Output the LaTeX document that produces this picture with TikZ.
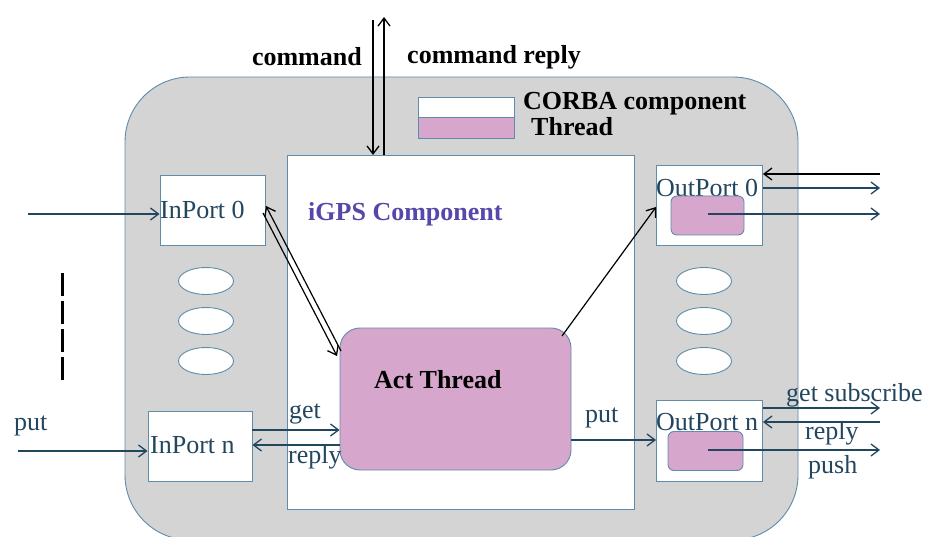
\documentclass[tikz,border=0pt]{standalone}
\usepackage{fontspec}
\setmainfont{Liberation Serif}
\usetikzlibrary{arrows.meta,shapes.geometric}
\definecolor{bgray}{RGB}{212,212,212}
\definecolor{edge}{RGB}{95,140,170}
\definecolor{pinkf}{RGB}{214,166,204}
\definecolor{labc}{RGB}{35,70,95}
\definecolor{igpsc}{RGB}{85,72,170}
\tikzset{
  box/.style={draw=edge, line width=0.9pt, rectangle, inner sep=0pt},
  whitebox/.style={box, fill=white},
  pinkbox/.style={box, fill=pinkf, rounded corners=6pt},
  oval/.style={draw=edge, line width=0.9pt, fill=white, ellipse, minimum width=55pt, minimum height=27pt, inner sep=0pt},
  lab/.style={inner sep=0pt, text=labc, font=\fontsize{26}{28}\selectfont},
  blab/.style={inner sep=0pt, text=black, font=\fontsize{26}{28}\selectfont\bfseries},
  conn/.style={draw=labc, line width=1.2pt, -{Straight Barb[length=8pt,width=12pt,line width=1.3pt]}},
  bconn/.style={draw=black, line width=1.2pt, -{Straight Barb[length=8pt,width=12pt,line width=1.3pt]}},
}
\begin{document}
\begin{tikzpicture}[x=1pt,y=-1pt]
\useasboundingbox (0,0) rectangle (928,537);
\clip (0,0) rectangle (928,537);
\fill[white] (0,0) rectangle (928,537);
% outer CORBA component
\node[box, fill=bgray, rounded corners=65pt, minimum width=673pt, minimum height=463pt] (outer) at (461.5,308.5) {};
% inner iGPS component
\node[whitebox, minimum width=347pt, minimum height=354pt] (igps) at (460.5,332) {};
\node[blab, text=igpsc, anchor=west] (igpslab) at (308,214) {iGPS Component};
% legend
\node[whitebox, minimum width=96pt, minimum height=20pt] (legc) at (466,107) {};
\node[box, fill=pinkf, minimum width=96pt, minimum height=21pt] (legt) at (466,127.5) {};
\node[blab, anchor=west] (legclab) at (523,104) {CORBA component};
\node[blab, anchor=west] (legtlab) at (531,127) {Thread};
% command arrows
\node[blab, anchor=east] (cmdlab) at (362,57) {command};
\node[blab, anchor=west] (cmdrlab) at (407,57) {command reply};
\coordinate (cmdtop) at (373,20);
\coordinate (cmdbot) at (373,155);
\coordinate (reptop) at (384,17);
\coordinate (repbot) at (384,155);
\draw[bconn] (cmdtop) -- (cmdbot);
\draw[bconn] (repbot) -- (reptop);
% in ports
\node[whitebox, minimum width=105pt, minimum height=70pt] (inport0) at (212.5,210) {};
\node[lab, anchor=west] (in0lab) at (160,210) {InPort 0};
\node[whitebox, minimum width=104pt, minimum height=70pt] (inportn) at (200,446) {};
\node[lab, anchor=west] (innlab) at (150,445) {InPort n};
% ovals
\node[oval] (ol1) at (206,281) {};
\node[oval] (ol2) at (206,321) {};
\node[oval] (ol3) at (206,361) {};
\node[oval] (or1) at (704,281) {};
\node[oval] (or2) at (704,321) {};
\node[oval] (or3) at (704,361) {};
% dashed ellipsis line
\coordinate (dtop) at (62,273);
\coordinate (dbot) at (62,383);
\draw[black, line width=3pt, dash pattern=on 23pt off 5pt] (dtop) -- (dbot);
% act thread
\node[box, fill=pinkf, rounded corners=20pt, minimum width=231pt, minimum height=142pt] (act) at (455.5,399) {};
\node[blab, anchor=west] (actlab) at (374,380) {Act Thread};
% out ports
\node[whitebox, minimum width=106pt, minimum height=80pt] (outport0) at (709.5,205) {};
\node[lab, anchor=west] (out0lab) at (656,188) {OutPort 0};
\node[pinkbox, minimum width=73pt, minimum height=39pt] (out0t) at (707.5,215.5) {};
\node[whitebox, minimum width=106pt, minimum height=81pt] (outportn) at (709.5,440.5) {};
\node[lab, anchor=west] (outnlab) at (656,422) {OutPort n};
\node[pinkbox, minimum width=75pt, minimum height=39pt] (outnt) at (705.5,451) {};
% input arrows
\coordinate (in0src) at (28,214);
\draw[conn] (in0src) -- (in0src -| inport0.west);
\node[lab, anchor=west] (putlab) at (14,426) {put};
\coordinate (innsrc) at (18,451);
\draw[conn] (innsrc) -- (innsrc -| inportn.west);
% inport0 <-> act
\coordinate (a1s) at (341,351);
\coordinate (a1e) at (266,206);
\coordinate (a2s) at (263,213);
\coordinate (a2e) at (337,356);
\draw[bconn] (a1s) -- (a1e);
\draw[bconn] (a2s) -- (a2e);
% inportn <-> act
\coordinate (getrow) at (0,430);
\coordinate (reprow) at (0,445);
\draw[conn] (getrow -| inportn.east) -- (getrow -| act.west);
\draw[conn] (reprow -| act.west) -- (reprow -| inportn.east);
\node[lab, anchor=west] (getlab) at (289,414) {get};
\node[lab, anchor=west] (replab) at (288,457) {reply};
% act -> outport0
\coordinate (actne) at (562,336);
\draw[bconn] (actne) -- ([yshift=-2pt]outport0.west);
% act -> outportn
\coordinate (actput) at (571,440);
\draw[conn] (actput) -- (actput -| outportn.west);
\node[lab, anchor=west] (put2lab) at (585,418) {put};
% outport0 right arrows
\coordinate (o0a) at (880,174);
\coordinate (o0b) at (880,188);
\coordinate (o0c) at (880,214);
\draw[bconn] (o0a) -- (o0a -| outport0.east);
\draw[conn] (o0b -| outport0.east) -- (o0b);
\draw[conn] (o0c -| out0t.center) -- (o0c);
% outportn right arrows
\coordinate (ona) at (880,408);
\coordinate (onb) at (880,422);
\coordinate (onc) at (880,450);
\draw[conn] (ona -| outportn.east) -- (ona);
\draw[conn] (onb) -- (onb -| outportn.east);
\draw[conn] ([xshift=2pt]onc -| outnt.center) -- (onc);
\node[lab, anchor=west] (gslab) at (786,395) {get subscribe};
\node[lab, anchor=west] (rep2lab) at (805,433) {reply};
\node[lab, anchor=west] (pushlab) at (808,467) {push};
\end{tikzpicture}
\end{document}
